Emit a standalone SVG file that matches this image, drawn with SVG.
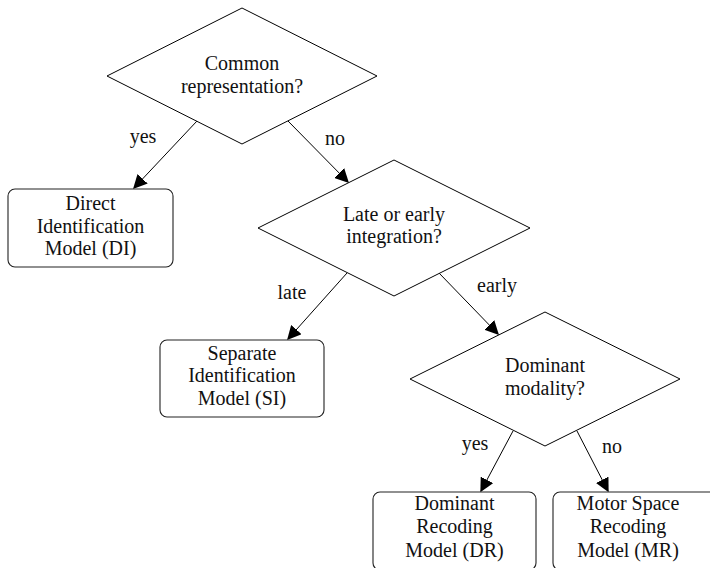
<svg xmlns="http://www.w3.org/2000/svg" width="710" height="568" viewBox="0 0 710 568" font-family="Liberation Serif, DejaVu Serif, serif">
<style>
.d{fill:#fff;stroke:#000;stroke-width:1}
.b{fill:#fff;stroke:#222;stroke-width:1.1}
.t{font-size:20px;fill:#111;text-anchor:middle}
.c{stroke:#000;stroke-width:1;fill:none;marker-end:url(#ah)}
</style>
<defs>
<marker id="ah" viewBox="0 0 10 10" refX="9" refY="5" markerWidth="14" markerHeight="14" markerUnits="userSpaceOnUse" orient="auto">
<path d="M0,0 L10,5 L0,10 Z" fill="#000"/>
</marker>
</defs>
<rect width="710" height="568" fill="#fff"/>
<g id="connectors">
<line class="c" x1="197" y1="121" x2="134" y2="188"/>
<line class="c" x1="288" y1="121" x2="348" y2="182"/>
<line class="c" x1="347" y1="273" x2="288" y2="339"/>
<line class="c" x1="439" y1="273" x2="498" y2="334"/>
<line class="c" x1="513" y1="431" x2="481" y2="491"/>
<line class="c" x1="577" y1="431" x2="608" y2="491"/>
<text class="t" x="143" y="143">yes</text>
<text class="t" x="335" y="145">no</text>
<text class="t" x="292" y="299">late</text>
<text class="t" x="497" y="292">early</text>
<text class="t" x="475" y="450">yes</text>
<text class="t" x="612" y="453">no</text>
</g>
<g id="q1">
<polygon class="d" points="242,8 377,76 242,144 107,76"/>
<text class="t" x="242" y="70">Common</text>
<text class="t" x="242" y="93">representation?</text>
</g>
<g id="q2">
<polygon class="d" points="394,160 530,228 394,296 258,228"/>
<text class="t" x="394" y="221">Late or early</text>
<text class="t" x="394" y="243">integration?</text>
</g>
<g id="q3">
<polygon class="d" points="545,312 680,379 545,446 410,379"/>
<text class="t" x="545" y="372">Dominant</text>
<text class="t" x="545" y="395">modality?</text>
</g>
<g id="di">
<rect class="b" x="8" y="189" width="165" height="78" rx="7"/>
<text class="t" x="90.5" y="210">Direct</text>
<text class="t" x="90.5" y="233">Identification</text>
<text class="t" x="90.5" y="255">Model (DI)</text>
</g>
<g id="si">
<rect class="b" x="160" y="340" width="164" height="77" rx="7"/>
<text class="t" x="242" y="360">Separate</text>
<text class="t" x="242" y="382">Identification</text>
<text class="t" x="242" y="405">Model (SI)</text>
</g>
<g id="dr">
<rect class="b" x="373" y="492" width="163" height="78" rx="7"/>
<text class="t" x="454.5" y="510">Dominant</text>
<text class="t" x="454.5" y="533">Recoding</text>
<text class="t" x="454.5" y="557">Model (DR)</text>
</g>
<g id="mr">
<rect class="b" x="553" y="492" width="163" height="78" rx="7"/>
<text class="t" x="628" y="510">Motor Space</text>
<text class="t" x="628" y="533">Recoding</text>
<text class="t" x="628" y="557">Model (MR)</text>
</g>
</svg>
